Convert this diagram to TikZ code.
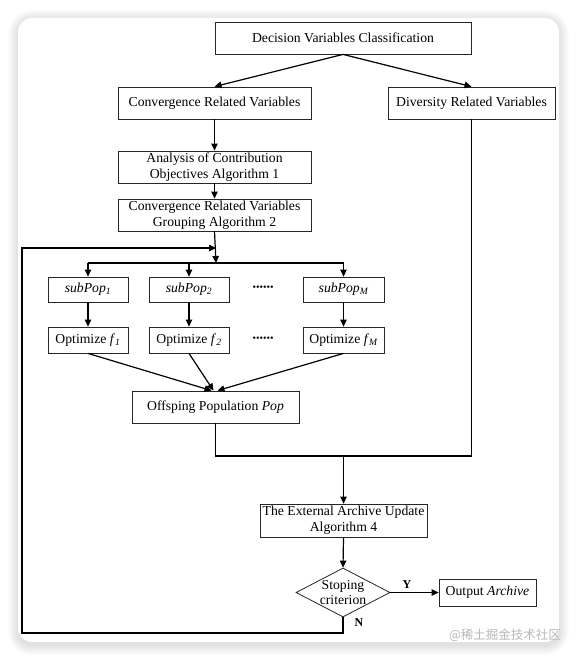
\documentclass[tikz,border=0pt]{standalone}
\usepackage{fontspec}
\setmainfont{Liberation Serif}
\newfontfamily\cjkfont{Noto Sans CJK SC}
\usetikzlibrary{arrows.meta,shapes.geometric,calc}
\begin{document}
\begin{tikzpicture}[x=1pt,y=-1pt,
  box/.style={draw=black!85, line width=0.8pt, fill=white, inner sep=0pt, align=center,
    font=\fontsize{13.7}{16}\selectfont},
  conn/.style={line width=1.2pt, draw=black},
  arr/.style={conn, -{Triangle[length=7pt,width=6.5pt]}},
  lbl/.style={font=\fontsize{12}{12}\selectfont\bfseries, inner sep=0pt},
  dotsnode/.style={font=\fontsize{10}{10}\selectfont, inner sep=0pt},
]
\useasboundingbox (0,0) rectangle (577,660);
\fill[white] (0,0) rectangle (577,660);
% card shadow
\foreach \e in {1,2,...,10} {
  \pgfmathsetmacro{\rr}{14+\e}
  \fill[black, opacity=0.012, rounded corners=\rr pt] (18-\e, 20-\e) rectangle (559+\e, 645+\e);
}
\fill[white, rounded corners=14pt] (18,18) rectangle (559,642);

% nodes
\node[box, minimum width=256pt, minimum height=32pt] (dvc) at (343,38) {Decision Variables Classification};
\node[box, minimum width=193pt, minimum height=32pt] (crv) at (214.5,103) {Convergence Related Variables};
\node[box, minimum width=167pt, minimum height=32pt] (drv) at (471.5,103) {Diversity Related Variables};
\node[box, minimum width=193pt, minimum height=32pt] (anal) at (214.5,167) {Analysis of Contribution\\Objectives Algorithm 1};
\node[box, minimum width=193pt, minimum height=32pt] (grp) at (214.5,215) {Convergence Related Variables\\Grouping Algorithm 2};

\node[box, minimum width=80pt, minimum height=25pt] (sp1) at (88,289.5) {\itshape subPop\textsubscript{1}};
\node[box, minimum width=80pt, minimum height=25pt] (sp2) at (189,289.5) {\itshape subPop\textsubscript{2}};
\node[box, minimum width=81pt, minimum height=25pt] (spM) at (343.5,289.5) {\itshape subPop\textsubscript{M}};
\node[dotsnode] (dotsA) at (263,288) {••••••};

\node[box, minimum width=80pt, minimum height=26pt] (o1) at (88,340) {Optimize \textit{f}\textsubscript{\itshape 1}};
\node[box, minimum width=80pt, minimum height=26pt] (o2) at (189,340) {Optimize \textit{f}\textsubscript{\itshape 2}};
\node[box, minimum width=81pt, minimum height=26pt] (oM) at (343.5,340) {Optimize \textit{f}\textsubscript{\itshape M}};
\node[dotsnode] (dotsB) at (263,339) {••••••};

\node[box, minimum width=167pt, minimum height=32pt] (off) at (215.5,407) {Offsping Population \textit{Pop}};
\node[box, minimum width=167pt, minimum height=33pt] (ext) at (343.5,520.5) {The External Archive Update\\Algorithm 4};
\node[draw=black!85, line width=0.8pt, diamond, minimum width=94pt, minimum height=49pt, inner sep=0pt] (dia) at (343,592.5) {};
\node[align=center, inner sep=0pt, font=\fontsize{13.7}{15}\selectfont] (diatext) at (343,592.5) {Stoping\\criterion};
\node[box, minimum width=97pt, minimum height=27pt] (outp) at (487.5,592.5) {Output \textit{Archive}};

\node[lbl] (ylab) at (407,585) {Y};
\node[lbl] (nlab) at (359,623) {N};

\node[inner sep=0pt, text=black!28, font=\cjkfont\fontsize{12.5}{12.5}\selectfont] (wm) at (505,635) {@稀土掘金技术社区};

% coordinates
\coordinate (bus) at (216,263);
\coordinate (loopin) at (216,248);
\coordinate (merge) at (343.5,456);

% connectors
\draw[arr] (dvc.south) -- (crv.north);
\draw[arr] (dvc.south) -- (drv.north);
\draw[arr] (crv.south) -- (anal.north);
\draw[arr] (anal.south) -- (grp.north);
\draw[arr] (grp.south) -- (bus);
\draw[conn] (sp1.north |- bus) -- (spM.north |- bus);
\draw[arr] (sp1.north |- bus) -- (sp1.north);
\draw[arr] (sp2.north |- bus) -- (sp2.north);
\draw[arr] (spM.north |- bus) -- (spM.north);
\draw[arr] (sp1.south) -- (o1.north);
\draw[arr] (sp2.south) -- (o2.north);
\draw[arr] (spM.south) -- (oM.north);
\draw[arr] (o1.south) -- ($(off.north)+(-4,0)$);
\draw[arr] (o2.south) -- ($(off.north)+(-2,0)$);
\draw[arr] (oM.south) -- ($(off.north)+(2,0)$);
\draw[conn] (off.south) |- (drv.south |- merge) -- (drv.south);
\draw[arr] (merge) -- (ext.north);
\draw[arr] (ext.south) -- (dia.north);
\draw[arr] (dia.east) -- (outp.west);
\draw[arr] (dia.south) -- (dia.south |- 0,633) -| (22,248) -- (loopin);
\end{tikzpicture}
\end{document}
